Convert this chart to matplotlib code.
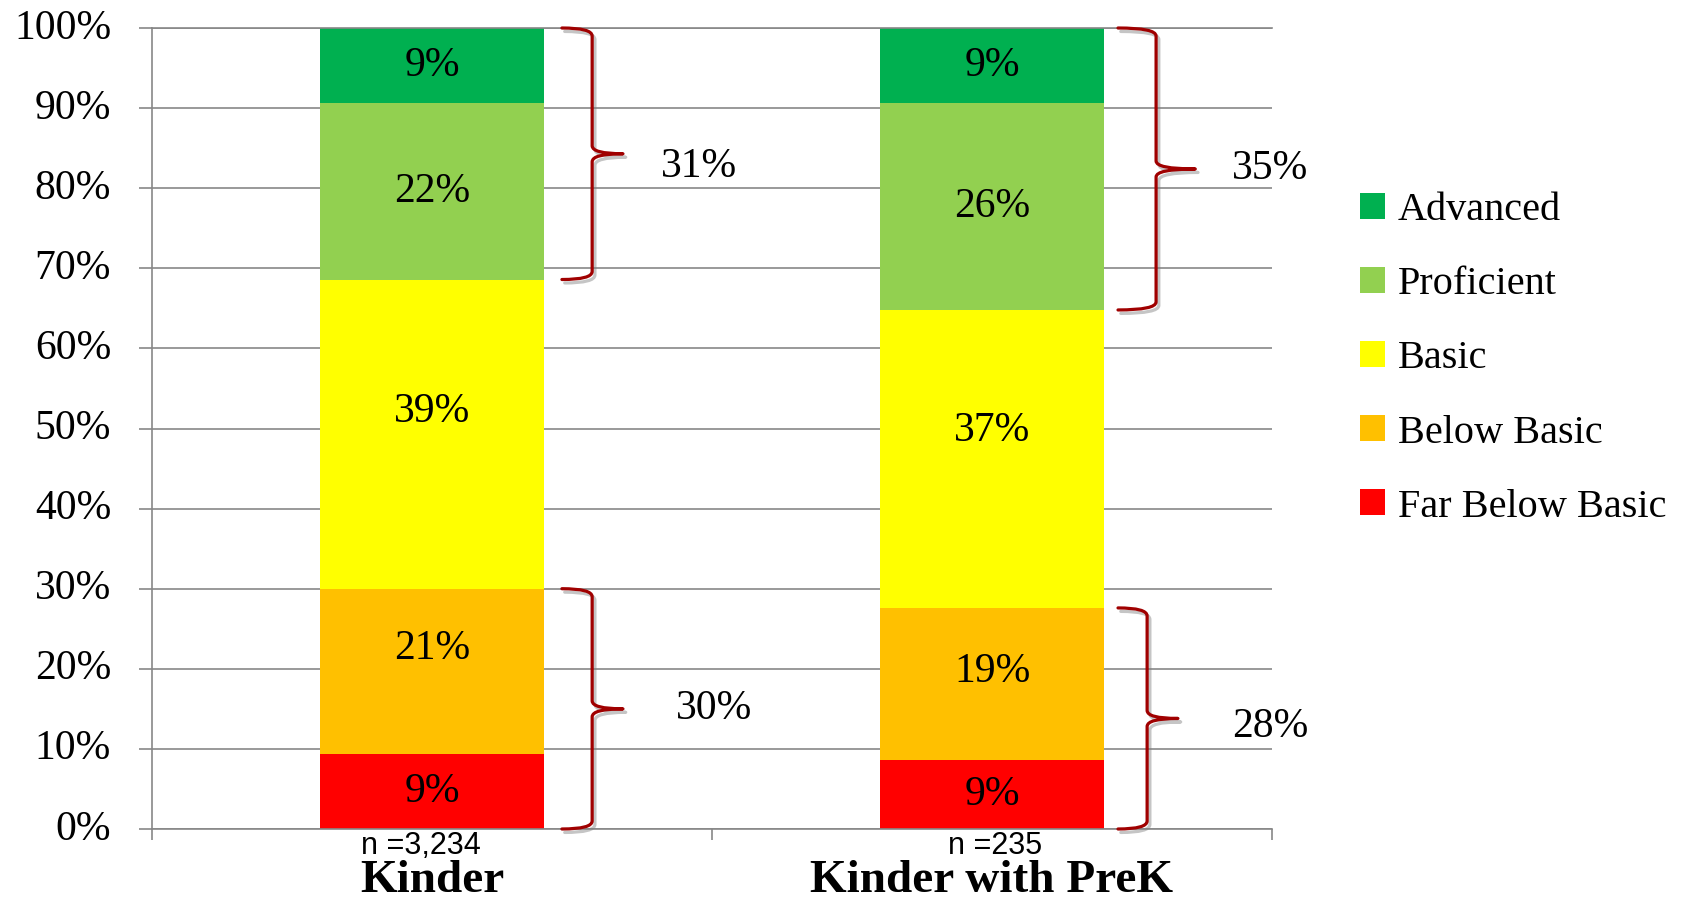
import matplotlib
matplotlib.use("Agg")
import matplotlib.pyplot as plt
from matplotlib.path import Path
from matplotlib.patches import PathPatch, Patch
from matplotlib.transforms import ScaledTranslation
import matplotlib.patheffects as pe

# ---- data -------------------------------------------------------------
groups = ["Kinder", "Kinder with PreK"]
sample_sizes = ["n =3,234", "n =235"]
levels = ["Far Below Basic", "Below Basic", "Basic", "Proficient", "Advanced"]
far_below_basic = [9.4, 8.6]
below_basic = [20.6, 19.0]
basic = [38.6, 37.2]
proficient = [22.0, 25.8]
advanced = [9.4, 9.4]
y_ticks = [0, 10, 20, 30, 40, 50, 60, 70, 80, 90, 100]

# ---- style ------------------------------------------------------------
level_colors = ["#FF0000", "#FFC000", "#FFFF00", "#92D050", "#00B050"]
grid_gray = "#878787"
brace_red = "#A00000"
SERIF = ["Liberation Serif", "DejaVu Serif"]
SANS_NARROW = ["Liberation Sans Narrow", "Liberation Sans", "DejaVu Sans"]

# vertical nudges (points) for a few in-bar labels: [group][level]
label_nudge = [[0, 16, 16, 0, 0], [0, 9, 20, 0, 0]]

fig = plt.figure(figsize=(16.85, 9.02), dpi=100)
ax = fig.add_axes([152 / 1685, 1 - 829 / 902, 1120 / 1685, 801 / 902])

series = [far_below_basic, below_basic, basic, proficient, advanced]
x = list(range(len(groups)))
bar_w = 0.4

bottoms = [0.0] * len(groups)
for lvl, (vals, col) in enumerate(zip(series, level_colors)):
    ax.bar(x, vals, bar_w, bottom=bottoms, color=col, linewidth=0,
           zorder=2, label=levels[lvl])
    for gi, v in enumerate(vals):
        ax.annotate(f"{round(v)}%", xy=(gi, bottoms[gi] + v / 2),
                    xytext=(0, label_nudge[gi][lvl]), textcoords="offset points",
                    ha="center", va="center", fontsize=30, family=SERIF,
                    zorder=3)
    bottoms = [b + v for b, v in zip(bottoms, vals)]

# ---- axes -------------------------------------------------------------
ax.set_xlim(-0.5, 1.5)
ax.set_ylim(0, 100)
ax.set_yticks(y_ticks)
ax.set_yticklabels([f"{t}%" for t in y_ticks], fontsize=30, family=SERIF)
ax.yaxis.grid(True, color=grid_gray, linewidth=1.2, zorder=0)
ax.set_axisbelow(True)
ax.tick_params(axis="y", direction="out", length=9.5, width=1.2,
               color=grid_gray, pad=20)
# raise the percentage labels slightly above their gridlines
lift = ScaledTranslation(0, 3 / 72, fig.dpi_scale_trans)
for tick in ax.yaxis.get_major_ticks():
    tick.label1.set_transform(tick.label1.get_transform() + lift)

ax.set_xticks(x)
ax.set_xticklabels(groups, fontsize=34, fontweight="bold", family=SERIF)
ax.set_xticks([-0.5, 0.5, 1.5], minor=True)
ax.tick_params(axis="x", which="major", length=0, pad=22)
ax.tick_params(axis="x", which="minor", direction="out", length=8,
               width=1.2, color=grid_gray)

for side in ("left", "bottom", "top"):
    ax.spines[side].set_color(grid_gray)
    ax.spines[side].set_linewidth(1.2)
ax.spines["right"].set_visible(False)

# sample sizes under each bar
n_dx = [-8, 2]
for gi, txt in enumerate(sample_sizes):
    ax.annotate(txt, xy=(gi, 0), xycoords=("data", "axes fraction"),
                xytext=(n_dx[gi], -12), textcoords="offset points",
                ha="center", va="center", fontsize=22, family=SANS_NARROW)


# ---- curly braces -----------------------------------------------------
def brace(x_tip, x_spine, x_point, y_lo, y_hi, r=1.0):
    y_mid = (y_lo + y_hi) / 2
    verts = [
        (x_tip, y_hi), (x_spine, y_hi), (x_spine, y_hi - r),
        (x_spine, y_mid + r),
        (x_spine, y_mid), (x_point, y_mid),
        (x_spine, y_mid), (x_spine, y_mid - r),
        (x_spine, y_lo + r),
        (x_spine, y_lo), (x_tip, y_lo),
    ]
    codes = [
        Path.MOVETO, Path.CURVE3, Path.CURVE3,
        Path.LINETO,
        Path.CURVE3, Path.CURVE3,
        Path.CURVE3, Path.CURVE3,
        Path.LINETO,
        Path.CURVE3, Path.CURVE3,
    ]
    patch = PathPatch(Path(verts, codes), fill=False, edgecolor=brace_red,
                      linewidth=2.3, capstyle="round", joinstyle="round",
                      clip_on=False, zorder=4)
    patch.set_path_effects([
        pe.SimpleLineShadow(offset=(2, -2.5), shadow_color="gray", alpha=0.45),
        pe.Normal(),
    ])
    ax.add_patch(patch)
    return y_mid


# (group, upper?) -> tip, spine, point, label x-offsets from bar centre,
# and a vertical label nudge in points
brace_geom = {
    (0, True): (0.232, 0.286, 0.341, 0.477, -9),
    (0, False): (0.232, 0.286, 0.341, 0.504, 0),
    (1, True): (0.225, 0.293, 0.363, 0.496, 0),
    (1, False): (0.225, 0.277, 0.332, 0.496, -6),
}

for gi in x:
    top_share = proficient[gi] + advanced[gi]
    low_share = far_below_basic[gi] + below_basic[gi]
    for upper, share in ((True, top_share), (False, low_share)):
        tip, spine, point, lab, dy = brace_geom[(gi, upper)]
        if upper:
            lo, hi = 100 - share, 100
        else:
            lo, hi = 0, share
        ym = brace(gi + tip, gi + spine, gi + point, lo, hi)
        ax.annotate(f"{round(share)}%", xy=(gi + lab, ym), xytext=(0, dy),
                    textcoords="offset points", ha="center", va="center",
                    fontsize=30, family=SERIF, annotation_clip=False)

# ---- legend -----------------------------------------------------------
handles = [Patch(facecolor=c, edgecolor="none") for c in level_colors][::-1]
ax.legend(handles, levels[::-1], loc="center left",
          bbox_to_anchor=(1360 / 1685, 1 - 359 / 902),
          bbox_transform=fig.transFigure, frameon=False,
          prop={"family": SERIF, "size": 29},
          handlelength=0.62, handleheight=0.62, handletextpad=0.32,
          labelspacing=0.92, borderpad=0, borderaxespad=0)

fig.savefig("out.png", dpi=100)
